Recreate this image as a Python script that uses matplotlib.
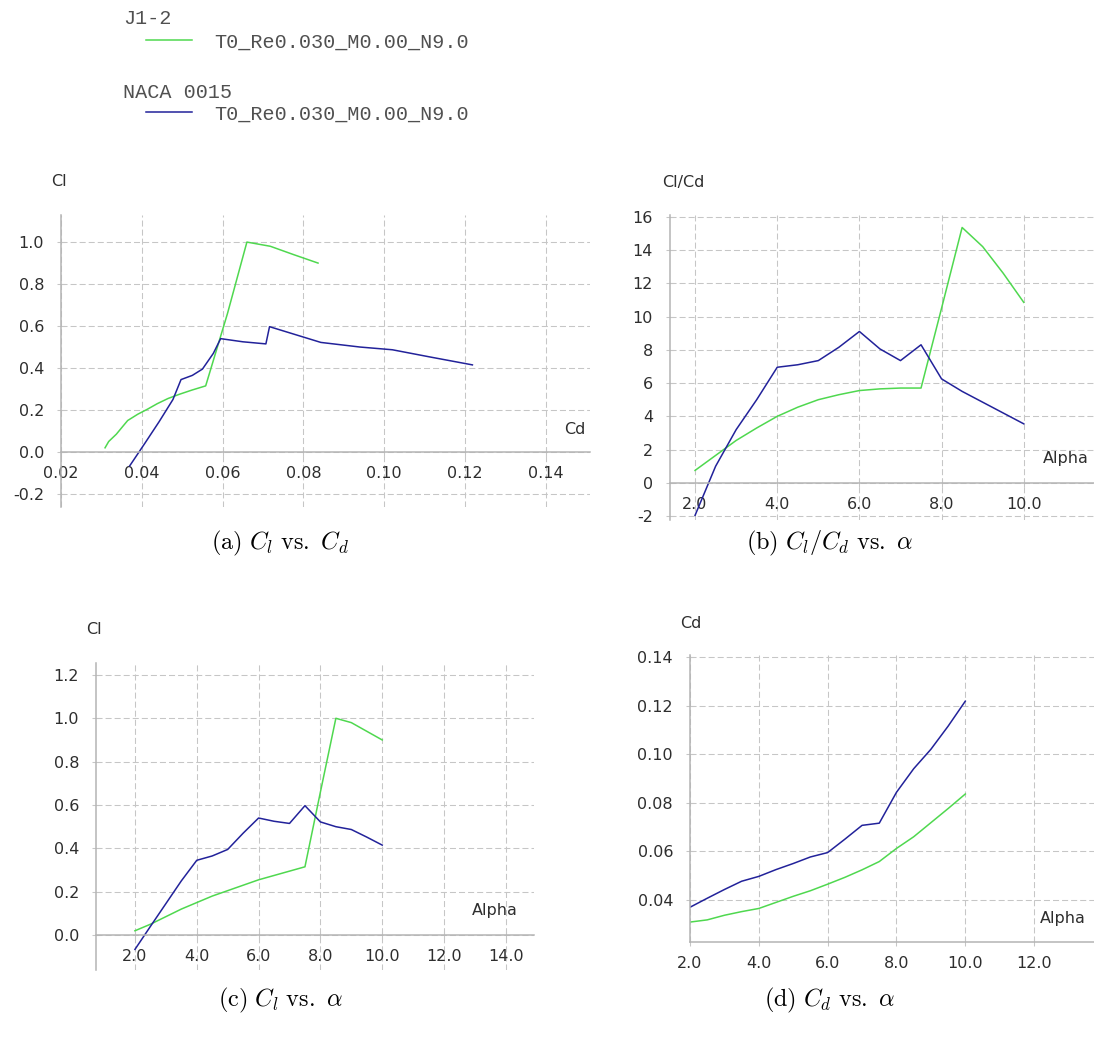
import matplotlib
matplotlib.use('Agg')
import matplotlib.pyplot as plt
from matplotlib.ticker import FixedLocator, FormatStrFormatter

plt.rcParams['font.family'] = ['DejaVu Sans']
plt.rcParams['mathtext.fontset'] = 'cm'
plt.rcParams['axes.unicode_minus'] = False

# angle of attack, same for both airfoils
alpha = [2.0, 2.5, 3.0, 3.5, 4.0, 4.5, 5.0, 5.5, 6.0,
         6.5, 7.0, 7.5, 8.0, 8.5, 9.0, 9.5, 10.0]

# J1-2 (green)
cd_j12 = [0.0309, 0.0318, 0.0337, 0.0352, 0.0365, 0.0390, 0.0415, 0.0438, 0.0465,
          0.0493, 0.0524, 0.0558, 0.0612, 0.0660, 0.0718, 0.0776, 0.0836]
cl_j12 = [0.02, 0.05, 0.085, 0.12, 0.15, 0.18, 0.205, 0.23, 0.255,
          0.275, 0.295, 0.315, 0.66, 1.0, 0.98, 0.94, 0.90]
clcd_j12 = [0.75, 1.65, 2.55, 3.3, 4.0, 4.55, 5.0, 5.3, 5.55,
            5.65, 5.7, 5.7, 10.5, 15.35, 14.2, 12.6, 10.85]

# NACA 0015 (blue)
cd_naca = [0.0370, 0.0407, 0.0443, 0.0477, 0.0497, 0.0525, 0.0550, 0.0577, 0.0595,
           0.0650, 0.0707, 0.0716, 0.0843, 0.0940, 0.1020, 0.1115, 0.1218]
cl_naca = [-0.066, 0.04, 0.145, 0.25, 0.345, 0.365, 0.395, 0.47, 0.54,
           0.525, 0.515, 0.597, 0.522, 0.50, 0.487, 0.452, 0.415]
clcd_naca = [-1.95, 1.0, 3.2, 5.0, 6.95, 7.1, 7.35, 8.15, 9.1,
             8.05, 7.35, 8.3, 6.25, 5.5, 4.85, 4.2, 3.55]

series_label = 'T0_Re0.030_M0.00_N9.0'
foil_names = ['J1-2', 'NACA 0015']

GREEN = '#4fd84f'
BLUE = '#22229a'
GRID = '#c6c6c6'
AXIS = '#b4b4b4'
TXT = '#2e2e2e'

W, H = 1094, 1037
fig = plt.figure(figsize=(W / 100, H / 100), dpi=100)


def px_box(x0, x1, y0, y1):
    return [x0 / W, 1 - y1 / H, (x1 - x0) / W, (y1 - y0) / H]


def xflr_axes(box, xlim, ylim, xticks, yticks, xfmt, yfmt, xaxis_at_zero=True):
    ax = fig.add_axes(px_box(*box))
    ax.set_xlim(*xlim)
    ax.set_ylim(*ylim)
    ax.xaxis.set_major_locator(FixedLocator(xticks))
    ax.yaxis.set_major_locator(FixedLocator(yticks))
    ax.xaxis.set_major_formatter(FormatStrFormatter(xfmt))
    ax.yaxis.set_major_formatter(FormatStrFormatter(yfmt))
    ax.grid(True, color=GRID, linestyle=(0, (5.8, 2.9)), linewidth=0.75)
    ax.set_axisbelow(True)
    for s in ['top', 'right']:
        ax.spines[s].set_visible(False)
    for s in ['left', 'bottom']:
        ax.spines[s].set_color(AXIS)
        ax.spines[s].set_linewidth(1.1)
    if xaxis_at_zero:
        ax.spines['bottom'].set_position(('data', 0))
    ax.tick_params(axis='y', direction='inout', length=6, width=0.75,
                   color=GRID, pad=9.2, labelsize=11.5, labelcolor=TXT)
    ax.tick_params(axis='x', direction='inout', length=6, width=0.75,
                   color=GRID, pad=7, labelsize=11.5, labelcolor=TXT)
    ax.patch.set_alpha(0)
    return ax


def label(x, y, s):
    fig.text(x / W, 1 - y / H, s, ha='center', va='center',
             fontsize=11.5, color=TXT)


def caption(x, y, s):
    fig.text(x / W, 1 - y / H, s, ha='center', va='center', fontsize=17.5)


# (a) Cl vs Cd
ax = xflr_axes((61, 590, 215, 507), (0.02, 0.1509), (-0.262, 1.129),
               [0.02, 0.04, 0.06, 0.08, 0.10, 0.12, 0.14],
               [-0.2, 0.0, 0.2, 0.4, 0.6, 0.8, 1.0], '%.2f', '%.1f')
l_j, = ax.plot(cd_j12, cl_j12, color=GREEN, lw=1.1)
l_n, = ax.plot(cd_naca, cl_naca, color=BLUE, lw=1.1)
label(59, 182, 'Cl')
label(575, 430, 'Cd')
caption(280, 543, r'$\mathrm{(a)}\ C_l\ \mathrm{vs.}\ C_d$')

# (b) Cl/Cd vs alpha
ax = xflr_axes((670, 1094, 215, 520), (1.39, 11.71), (-2.23, 16.1),
               [2, 4, 6, 8, 10], list(range(-2, 17, 2)), '%.1f', '%d')
ax.plot(alpha, clcd_j12, color=GREEN, lw=1.1)
ax.plot(alpha, clcd_naca, color=BLUE, lw=1.1)
label(683, 183, 'Cl/Cd')
label(1066, 458, 'Alpha')
caption(830, 543, r'$\mathrm{(b)}\ C_l/C_d\ \mathrm{vs.}\ \alpha$')

# (c) Cl vs alpha
ax = xflr_axes((96, 534, 663, 970), (0.74, 14.91), (-0.161, 1.255),
               [2, 4, 6, 8, 10, 12, 14],
               [0.0, 0.2, 0.4, 0.6, 0.8, 1.0, 1.2], '%.1f', '%.1f')
ax.plot(alpha, cl_j12, color=GREEN, lw=1.1)
ax.plot(alpha, cl_naca, color=BLUE, lw=1.1)
label(94, 630, 'Cl')
label(495, 911, 'Alpha')
caption(280, 1000, r'$\mathrm{(c)}\ C_l\ \mathrm{vs.}\ \alpha$')

# (d) Cd vs alpha
ax = xflr_axes((690, 1094, 655, 942), (2.0, 13.74), (0.0227, 0.1408),
               [2, 4, 6, 8, 10, 12],
               [0.04, 0.06, 0.08, 0.10, 0.12, 0.14], '%.1f', '%.2f',
               xaxis_at_zero=False)
ax.plot(alpha, cd_j12, color=GREEN, lw=1.1)
ax.plot(alpha, cd_naca, color=BLUE, lw=1.1)
label(691, 623, 'Cd')
label(1063, 918, 'Alpha')
caption(830, 1000, r'$\mathrm{(d)}\ C_d\ \mathrm{vs.}\ \alpha$')

# legend block at the top
mono = {'family': 'Liberation Mono', 'size': 14.5}
for name, line, ytitle, yline in [(foil_names[0], l_j, 19, 42),
                                  (foil_names[1], l_n, 92, 114)]:
    fig.text(123 / W, 1 - ytitle / H, name, ha='left', va='center',
             color='#505050', **mono)
    leg = fig.legend([line], [series_label], loc='center left',
                     bbox_to_anchor=(146 / W, 1 - yline / H),
                     frameon=False, borderpad=0, borderaxespad=0,
                     handlelength=2.28, handletextpad=1.09, prop=mono)
    for t in leg.get_texts():
        t.set_color('#505050')

fig.savefig('out.png', dpi=100)
